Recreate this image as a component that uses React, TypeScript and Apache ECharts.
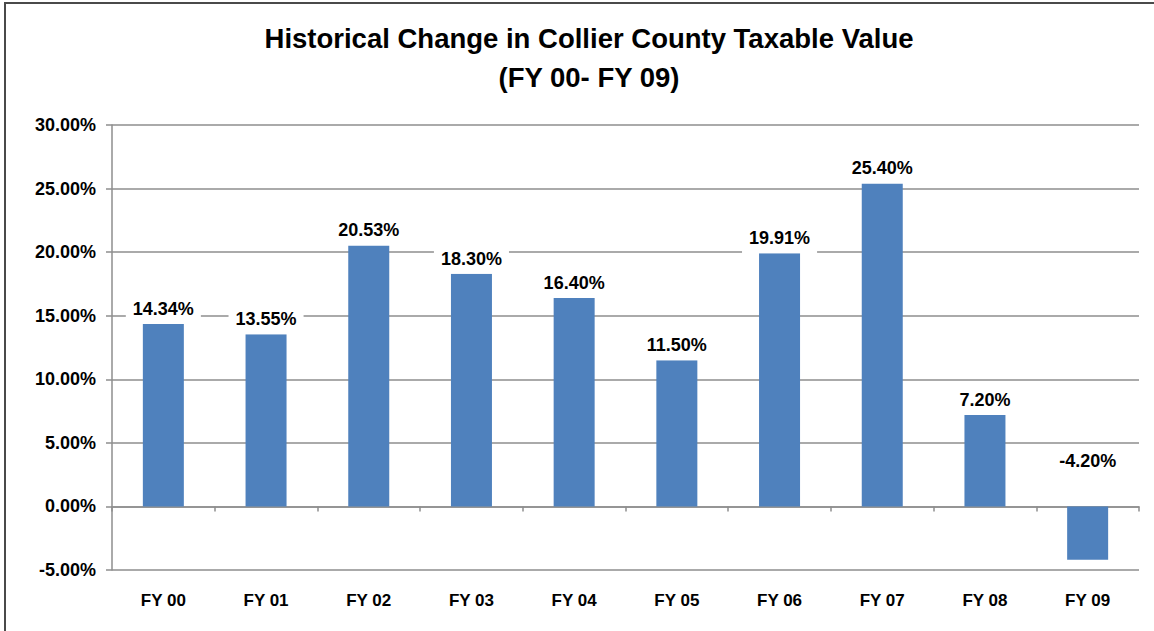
import React, { useEffect, useRef } from "react";
import * as echarts from "echarts";

const categories = ["FY 00", "FY 01", "FY 02", "FY 03", "FY 04", "FY 05", "FY 06", "FY 07", "FY 08", "FY 09"];
const changes = [14.34, 13.55, 20.53, 18.3, 16.4, 11.5, 19.91, 25.4, 7.2, -4.2];
const titleLine1 = "Historical Change in Collier County Taxable Value";
const titleLine2 = "(FY 00- FY 09)";

const FONT = "'Liberation Sans', Arial, sans-serif";

export default function App() {
  const ref = useRef<HTMLDivElement>(null);
  useEffect(() => {
    if (!ref.current) return;
    const chart = echarts.init(ref.current, undefined, { renderer: "svg" });
    const data = changes.map((v) => ({
      value: v,
      label: v < 0 ? { position: "top", distance: 30 } : undefined,
    }));
    chart.setOption({
      animation: false,
      backgroundColor: "#ffffff",
      title: [
        {
          text: titleLine1,
          left: 584,
          top: 18,
          textAlign: "center",
          textStyle: { fontFamily: FONT, fontSize: 27.5, fontWeight: "bold", color: "#000", lineHeight: 30 },
        },
        {
          text: titleLine2,
          left: 584,
          top: 57,
          textAlign: "center",
          textStyle: { fontFamily: FONT, fontSize: 27.5, fontWeight: "bold", color: "#000", lineHeight: 30 },
        },
      ],
      graphic: [
        {
          type: "rect",
          shape: { x: 5, y: 3, width: 1200, height: 700 },
          style: { fill: "none", stroke: "#4a4a4a", lineWidth: 2 },
          silent: true,
        },
      ],
      grid: { left: 112, right: 15, top: 125, bottom: 61, containLabel: false, outerBoundsMode: "none" },
      xAxis: {
        type: "category",
        data: categories,
        axisLine: { onZero: true, lineStyle: { color: "#8e8e8e", width: 1.5 } },
        axisTick: { show: true, length: 5, lineStyle: { color: "#8e8e8e", width: 1.5 } },
        axisLabel: {
          margin: 22,
          fontFamily: FONT,
          fontSize: 17,
          fontWeight: "bold",
          color: "#000",
        },
      },
      yAxis: {
        type: "value",
        min: -5,
        max: 30,
        interval: 5,
        axisLine: { show: true, lineStyle: { color: "#8e8e8e", width: 1.5 } },
        axisTick: { show: true, length: 6, lineStyle: { color: "#8e8e8e", width: 1.5 } },
        splitLine: { show: true, lineStyle: { color: "#8e8e8e", width: 1.5 } },
        axisLabel: {
          margin: 16,
          fontFamily: FONT,
          fontSize: 18,
          fontWeight: "bold",
          color: "#000",
          formatter: (v: number) => v.toFixed(2) + "%",
        },
      },
      series: [
        {
          type: "bar",
          data,
          barWidth: 41,
          itemStyle: { color: "#4F81BD" },
          label: {
            show: true,
            position: "top",
            distance: 0,
            fontFamily: FONT,
            fontSize: 18,
            fontWeight: "bold",
            color: "#000",
            backgroundColor: "#ffffff",
            padding: [6, 7],
            formatter: (p: any) => Number(p.value).toFixed(2) + "%",
          },
        },
      ],
    });
    return () => chart.dispose();
  }, []);
  return (
    <div
      ref={ref}
      style={{ position: "absolute", left: 0, top: 0, width: 1154, height: 631 }}
    />
  );
}
